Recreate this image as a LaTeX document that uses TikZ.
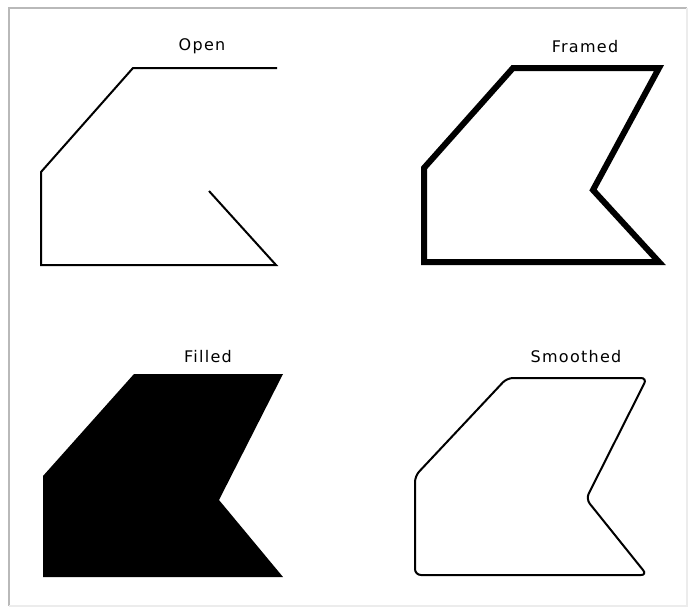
\documentclass[tikz,border=0pt]{standalone}
\usepackage{fontspec}
\setmainfont{DejaVu Sans}[LetterSpace=8]
\begin{document}
\begin{tikzpicture}[
    x=1pt, y=-1pt,
    caption/.style={font=\fontsize{16}{18}\selectfont, inner sep=0pt},
    thinline/.style={draw=black, line width=2pt, line join=miter},
    thickline/.style={draw=black, line width=6pt, line join=miter},
    frameline/.style={draw=gray!55, line width=1.5pt}
]
\useasboundingbox (0,0) rectangle (688,608);
\draw[frameline] (9,606) -- (9,8) -- (687,8);
\draw[frameline, draw=gray!15] (687,8) -- (687,606) -- (9,606);
\node[caption] (open) at (202,46) {Open};
\node[caption] (framed) at (585,47) {Framed};
\node[caption] (filled) at (208,357) {Filled};
\node[caption] (smoothed) at (576,357) {Smoothed};
\draw[thinline] (277,68) -- (133,68) -- (41,172) -- (41,265) -- (276,265) -- (209,191);
\draw[thickline] (513,68) -- (659,68) -- (593,190) -- (659,262) -- (424,262) -- (424,168) -- cycle;
\fill[black] (134,374) -- (283,374) -- (219,500) -- (283,577) -- (43,577) -- (43,476) -- cycle;
\draw[thinline, rounded corners=6pt] (507,378) -- (647,378) -- (586,499) -- (647,575) -- (415,575) -- (415,476) -- cycle;
\end{tikzpicture}
\end{document}
